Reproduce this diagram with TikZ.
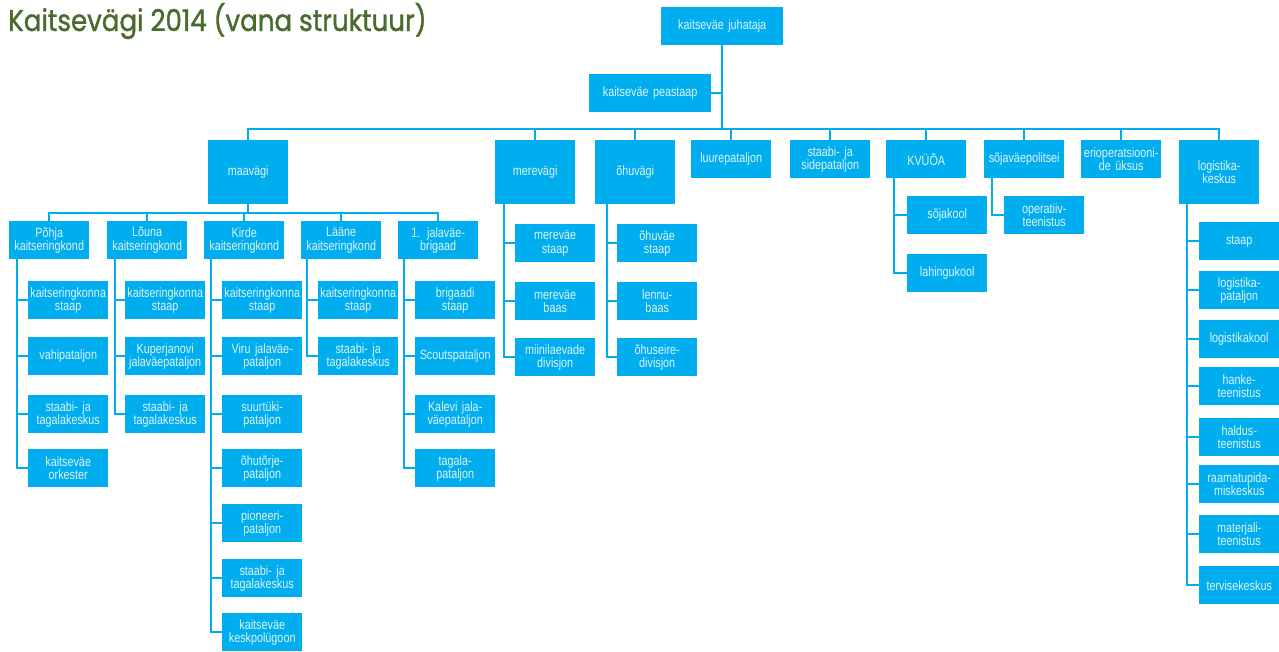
\documentclass[tikz,border=0pt]{standalone}
\usepackage{fontspec}
\setmainfont{Liberation Sans}[FakeStretch=0.8, WordSpace=0.75]
\newfontfamily\titlefont{Poppins}[FakeStretch=0.87, FakeBold=1.2]
\usepackage{tikz}
\definecolor{kvblue}{RGB}{0,174,239}
\definecolor{kvtext}{RGB}{222,243,252}
\definecolor{kvgreen}{RGB}{74,107,46}

\begin{document}
\begin{tikzpicture}[
  x=1pt, y=-1pt,
  box/.style={fill=kvblue, text=kvtext, inner sep=0pt, align=center,
    text width=80pt, minimum height=38pt, anchor=north west,
    font=\fontsize{13.5}{13.3}\selectfont},
  tall/.style={minimum height=64pt},
  wide/.style={text width=122pt},
  link/.style={draw=kvblue, line width=2pt}
]
\useasboundingbox (0,0) rectangle (1279,651);
\node[anchor=base west, inner sep=0pt, text=kvgreen, font=\titlefont\fontsize{30}{30}\selectfont] (title) at (8,31) {Kaitsevägi 2014 (vana struktuur)};

\node[box, wide] (juhataja) at (661,7) {kaitseväe juhataja};
\node[box, wide] (peastaap) at (589,74) {kaitseväe peastaap};
\coordinate (hub) at ([yshift=-84pt]juhataja.south);
\draw[link] (juhataja) -- (hub);
\draw[link] (peastaap) -- (peastaap -| hub);

\foreach \n/\x/\t in {maavagi/208/maavägi, merevagi/495/merevägi, ohuvagi/595/õhuvägi, logkeskus/1179/{logistika-\\keskus}}
  \node[box, tall] (\n) at (\x,140) {\t};
\foreach \n/\x/\t in {luure/691/luurepataljon, sidepat/790/{staabi- ja\\sidepataljon}, kvuoa/886/KVÜÕA, politsei/984/sõjaväepolitsei, erioper/1081/{erioperatsiooni-\\de üksus}}
  \node[box] (\n) at (\x,140) {\t};
\foreach \c in {maavagi,merevagi,ohuvagi,luure,sidepat,kvuoa,politsei,erioper,logkeskus}
  \draw[link] (hub) -| (\c);

\coordinate (mhub) at ([yshift=-9pt]maavagi.south);
\draw[link] (maavagi) -- (mhub);
\foreach \n/\x/\t in {pohja/9/{Põhja\\kaitseringkond}, louna/107/{Lõuna\\kaitseringkond}, kirde/204/{Kirde\\kaitseringkond}, laane/301/{Lääne\\kaitseringkond}, brigaad/398/{1. jalaväe-\\brigaad}}{
  \node[box] (\n) at (\x,221) {\t};
  \draw[link] (mhub) -| (\n);
}

\foreach \n/\y/\t in {pohja1/281/{kaitseringkonna\\staap}, pohja2/337/vahipataljon, pohja3/395/{staabi- ja\\tagalakeskus}, pohja4/449/{kaitseväe\\orkester}}{
  \node[box] (\n) at (28,\y) {\t};
  \draw[link] ([xshift=8pt]pohja.south west) |- (\n);
}
\foreach \n/\y/\t in {louna1/281/{kaitseringkonna\\staap}, louna2/337/{Kuperjanovi\\jalaväepataljon}, louna3/395/{staabi- ja\\tagalakeskus}}{
  \node[box] (\n) at (125,\y) {\t};
  \draw[link] ([xshift=8pt]louna.south west) |- (\n);
}
\foreach \n/\y/\t in {kirde1/281/{kaitseringkonna\\staap}, kirde2/337/{Viru jalaväe-\\pataljon}, kirde3/395/{suurtüki-\\pataljon}, kirde4/449/{õhutõrje-\\pataljon}, kirde5/504/{pioneeri-\\pataljon}, kirde6/559/{staabi- ja\\tagalakeskus}, kirde7/613/{kaitseväe\\keskpolügoon}}{
  \node[box] (\n) at (222,\y) {\t};
  \draw[link] ([xshift=7pt]kirde.south west) |- (\n);
}
\foreach \n/\y/\t in {laane1/281/{kaitseringkonna\\staap}, laane2/337/{staabi- ja\\tagalakeskus}}{
  \node[box] (\n) at (318,\y) {\t};
  \draw[link] ([xshift=6pt]laane.south west) |- (\n);
}
\foreach \n/\y/\t in {brigaad1/281/{brigaadi\\staap}, brigaad2/337/Scoutspataljon, brigaad3/395/{Kalevi jala-\\väepataljon}, brigaad4/449/{tagala-\\pataljon}}{
  \node[box] (\n) at (415,\y) {\t};
  \draw[link] ([xshift=6pt]brigaad.south west) |- (\n);
}

\foreach \n/\y/\t in {merevagi1/224/{mereväe\\staap}, merevagi2/282/{mereväe\\baas}, merevagi3/338/{miinilaevade\\divisjon}}{
  \node[box] (\n) at (515,\y) {\t};
  \draw[link] ([xshift=9pt]merevagi.south west) |- (\n);
}
\foreach \n/\y/\t in {ohuvagi1/224/{õhuväe\\staap}, ohuvagi2/282/{lennu-\\baas}, ohuvagi3/338/{õhuseire-\\divisjon}}{
  \node[box] (\n) at (617,\y) {\t};
  \draw[link] ([xshift=12pt]ohuvagi.south west) |- (\n);
}

\foreach \n/\y/\t in {kvuoa1/196/sõjakool, kvuoa2/254/lahingukool}{
  \node[box] (\n) at (907,\y) {\t};
  \draw[link] ([xshift=8pt]kvuoa.south west) |- (\n);
}
\node[box] (politsei1) at (1004,196) {operatiiv-\\teenistus};
\draw[link] ([xshift=8pt]politsei.south west) |- (politsei1);

\foreach \n/\y/\t in {log1/222/staap, log2/271/{logistika-\\pataljon}, log3/320/logistikakool, log4/367/{hanke-\\teenistus}, log5/418/{haldus-\\teenistus}, log6/465/{raamatupida-\\miskeskus}, log7/515/{materjali-\\teenistus}, log8/566/tervisekeskus}{
  \node[box] (\n) at (1199,\y) {\t};
  \draw[link] ([xshift=8pt]logkeskus.south west) |- (\n);
}
\end{tikzpicture}
\end{document}
